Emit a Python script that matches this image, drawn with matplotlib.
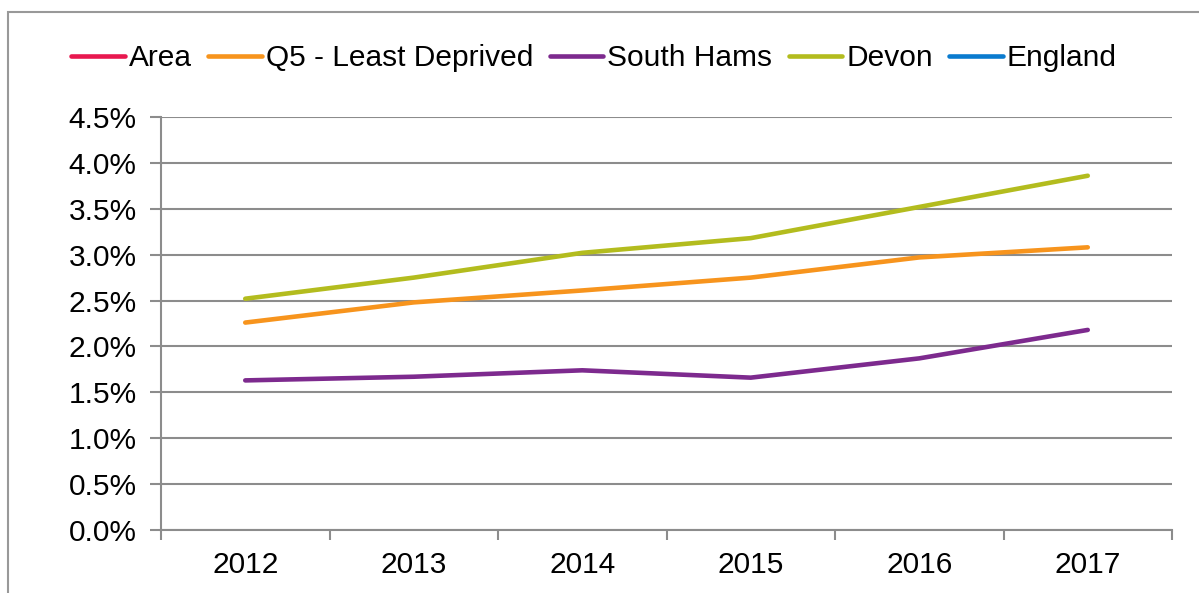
import matplotlib
matplotlib.use("Agg")
import matplotlib.pyplot as plt
from matplotlib.patches import Rectangle
import numpy as np

years = ["2012", "2013", "2014", "2015", "2016", "2017"]
area = []
q5_least_deprived = [2.26, 2.48, 2.61, 2.75, 2.97, 3.08]
south_hams = [1.63, 1.67, 1.74, 1.66, 1.87, 2.18]
devon = [2.52, 2.75, 3.02, 3.18, 3.52, 3.86]
england = []

series_names = ["Area", "Q5 - Least Deprived", "South Hams", "Devon", "England"]
series_vals = [area, q5_least_deprived, south_hams, devon, england]
colors = ["#E8184F", "#F7941D", "#7D2A8E", "#B3BC1E", "#0A7BCF"]
yticks = [0.0, 0.5, 1.0, 1.5, 2.0, 2.5, 3.0, 3.5, 4.0, 4.5]

plt.rcParams['font.family'] = ['Liberation Sans', 'DejaVu Sans']
FS = 21.5

fig = plt.figure(figsize=(11.99, 5.93), dpi=100)
W, H = 1199, 593
ax = fig.add_axes([161 / W, 1 - 530 / H, (1172 - 161) / W, (530 - 117) / H])

x = np.arange(len(years))
handles = []
for name, vals, c in zip(series_names, series_vals, colors):
    xs = x[:len(vals)]
    h, = ax.plot(xs, vals, color=c, lw=3.3, solid_capstyle='round', label=name)
    handles.append(h)

ax.set_xlim(-0.5, len(years) - 0.5)
ax.set_ylim(0, 4.5)
ax.set_yticks(yticks)
ax.set_yticklabels([f"{v:.1f}%" for v in yticks])
ax.set_xticks(x)
ax.set_xticklabels(years)
ax.set_xticks(np.arange(-0.5, len(years), 1.0), minor=True)
ax.tick_params(axis='x', which='major', length=0, pad=15, labelsize=FS)
ax.tick_params(axis='x', which='minor', length=7, width=1.5, color='#8C8C8C', direction='out')
ax.tick_params(axis='y', length=8, width=1.5, color='#8C8C8C', labelsize=FS, pad=9.5)
ax.yaxis.grid(True, color='#8C8C8C', lw=1.5)
ax.set_axisbelow(True)
for s in ['top', 'right']:
    ax.spines[s].set_visible(False)
for s in ['left', 'bottom']:
    ax.spines[s].set_color('#8C8C8C')
    ax.spines[s].set_linewidth(1.5)

fig.legend(handles=handles, loc='center', bbox_to_anchor=(594 / W, 1 - 58 / H),
           ncol=5, frameon=False, fontsize=FS, handlelength=1.8,
           handletextpad=0.13, columnspacing=0.55)

fig.patches.append(Rectangle((8 / W, -0.1), 1.2, 1 - 12 / H + 0.1, transform=fig.transFigure,
                             fill=False, edgecolor='#999999', lw=1.5))

fig.savefig("out.png", dpi=100)
